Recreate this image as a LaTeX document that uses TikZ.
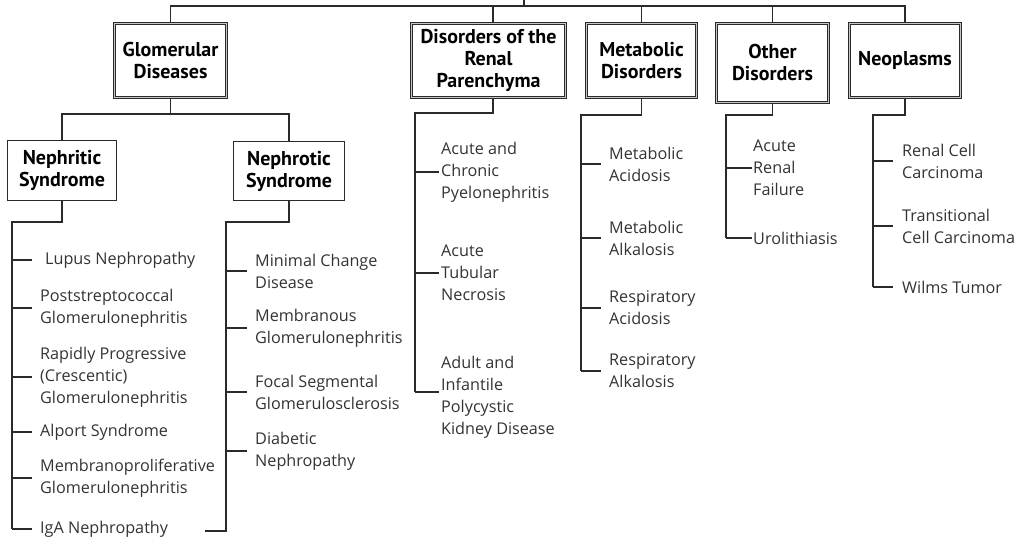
\documentclass[tikz,border=0pt]{standalone}
\usepackage{fontspec}
\setmainfont{Open Sans}
\newfontfamily\hdfont{PT Sans}
\definecolor{ln}{HTML}{2A2A2A}
\definecolor{tx}{HTML}{333333}
\begin{document}
\begin{tikzpicture}[x=1pt,y=-1pt,
  hdr/.style={draw=ln, line width=0.9pt, double=gray!45, double distance=1.4pt, fill=white, inner sep=0pt, align=center, font=\hdfont\bfseries\fontsize{20}{22}\selectfont, text=black},
  sub/.style={draw=ln, line width=1.1pt, fill=white, inner sep=0pt, align=center, font=\hdfont\bfseries\fontsize{20}{22}\selectfont, text=black},
  item/.style={anchor=west, inner sep=0pt, align=left, font=\fontsize{16.2}{22}\selectfont, text=tx},
  conn/.style={draw=ln, line width=1.1pt},
]
\useasboundingbox (0,0) rectangle (1029,540);

% header boxes
\node[hdr, minimum width=112, minimum height=74] (g) at (170.5,60.5) {Glomerular\\Diseases};
\node[hdr, minimum width=154, minimum height=74] (d) at (488.5,60.5) {Disorders of the\\Renal\\Parenchyma};
\node[hdr, minimum width=110, minimum height=74] (m) at (641.5,60.5) {Metabolic\\Disorders};
\node[hdr, minimum width=112, minimum height=79] (o) at (772.5,63) {Other\\Disorders};
\node[hdr, minimum width=111, minimum height=74] (n) at (905,60.5) {Neoplasms};

% sub boxes
\node[sub, minimum width=109, minimum height=60] (ns) at (62,170.5) {Nephritic\\Syndrome};
\node[sub, minimum width=111, minimum height=59] (nt) at (289,171) {Nephrotic\\Syndrome};

% top bus
\coordinate (root) at (524,0);
\coordinate (bus) at (524,6);
\draw[conn] (root) -- (bus);
\draw[conn] (bus) -| (g.north);
\draw[conn] (bus) -| ([xshift=4.5pt]d.north);
\draw[conn] (bus) -| (m.north);
\draw[conn] (bus) -| (o.north);
\draw[conn] (bus) -| (n.north);

% glomerular split
\coordinate (gj) at (170.5,114);
\draw[conn] (g.south) -- (gj) -| (ns.north);
\draw[conn] (gj) -| (nt.north);

% nephritic items
\node[item] (a1) at (45,260) {Lupus Nephropathy};
\node[item] (a2) at (40,308) {Poststreptococcal\\Glomerulonephritis};
\node[item] (a3) at (40,377) {Rapidly Progressive\\(Crescentic)\\Glomerulonephritis};
\node[item] (a4) at (40,432) {Alport Syndrome};
\node[item] (a5) at (40,478) {Membranoproliferative\\Glomerulonephritis};
\node[item] (a6) at (40,529) {IgA Nephropathy};
\coordinate (asp) at (12,222);
\draw[conn] (ns.south) |- (asp) -- (asp |- a6.west);
\draw[conn, shorten >=13pt] (asp |- a1.west) -- (a1.west);
\foreach \k in {a2,a3,a4,a5,a6}{\draw[conn, shorten >=8pt] (asp |- \k.west) -- (\k.west);}

% nephrotic items
\node[item] (b1) at (255,271) {Minimal Change\\Disease};
\node[item] (b2) at (255,328) {Membranous\\Glomerulonephritis};
\node[item] (b3) at (255,392) {Focal Segmental\\Glomerulosclerosis};
\node[item] (b4) at (255,451) {Diabetic\\Nephropathy};
\coordinate (bsp) at (226,222);
\coordinate (bse) at (226,531);
\coordinate (bend) at (205,531);
\draw[conn] (nt.south) |- (bsp) -- (bse) -- (bend);
\foreach \k in {b1,b2,b3,b4}{\draw[conn, shorten >=8pt] (bsp |- \k.west) -- (\k.west);}

% renal parenchyma items
\node[item] (c1) at (441,172) {Acute and\\Chronic\\Pyelonephritis};
\node[item] (c2) at (441,273) {Acute\\Tubular\\Necrosis};
\node[item] (c3) at (441,397) {Adult and\\Infantile\\Polycystic\\Kidney Disease};
\coordinate (csp) at (415,113);
\coordinate (c3t) at ([yshift=5pt]c3.west);
\draw[conn] ([xshift=4.5pt]d.south) |- (csp) -- (csp |- c3t);
\foreach \k in {c1,c2}{\draw[conn, shorten >=2pt] (csp |- \k.west) -- (\k.west);}
\draw[conn, shorten >=2pt] (csp |- c3t) -- (c3t);

% metabolic items
\node[item] (e1) at (609,164) {Metabolic\\Acidosis};
\node[item] (e2) at (609,238) {Metabolic\\Alkalosis};
\node[item] (e3) at (609,308) {Respiratory\\Acidosis};
\node[item] (e4) at (609,371) {Respiratory\\Alkalosis};
\coordinate (esp) at (581,115);
\draw[conn] (m.south) |- (esp) -- (esp |- e4.west);
\foreach \k in {e1,e2,e3,e4}{\draw[conn, shorten >=8pt] (esp |- \k.west) -- (\k.west);}

% other items
\node[item] (f1) at (753,168) {Acute\\Renal\\Failure};
\node[item] (f2) at (753,238) {Urolithiasis};
\coordinate (fsp) at (726,115);
\draw[conn] (o.south) |- (fsp) -- (fsp |- f2.west);
\foreach \k in {f1,f2}{\draw[conn, shorten >=1pt] (fsp |- \k.west) -- (\k.west);}

% neoplasm items
\node[item] (h1) at (902,161) {Renal Cell\\Carcinoma};
\node[item] (h2) at (902,226) {Transitional\\Cell Carcinoma};
\node[item] (h3) at (902,287) {Wilms Tumor};
\coordinate (hsp) at (873,115);
\draw[conn] (n.south) |- (hsp) -- (hsp |- h3.west);
\foreach \k in {h1,h2,h3}{\draw[conn, shorten >=9pt] (hsp |- \k.west) -- (\k.west);}
\end{tikzpicture}
\end{document}
